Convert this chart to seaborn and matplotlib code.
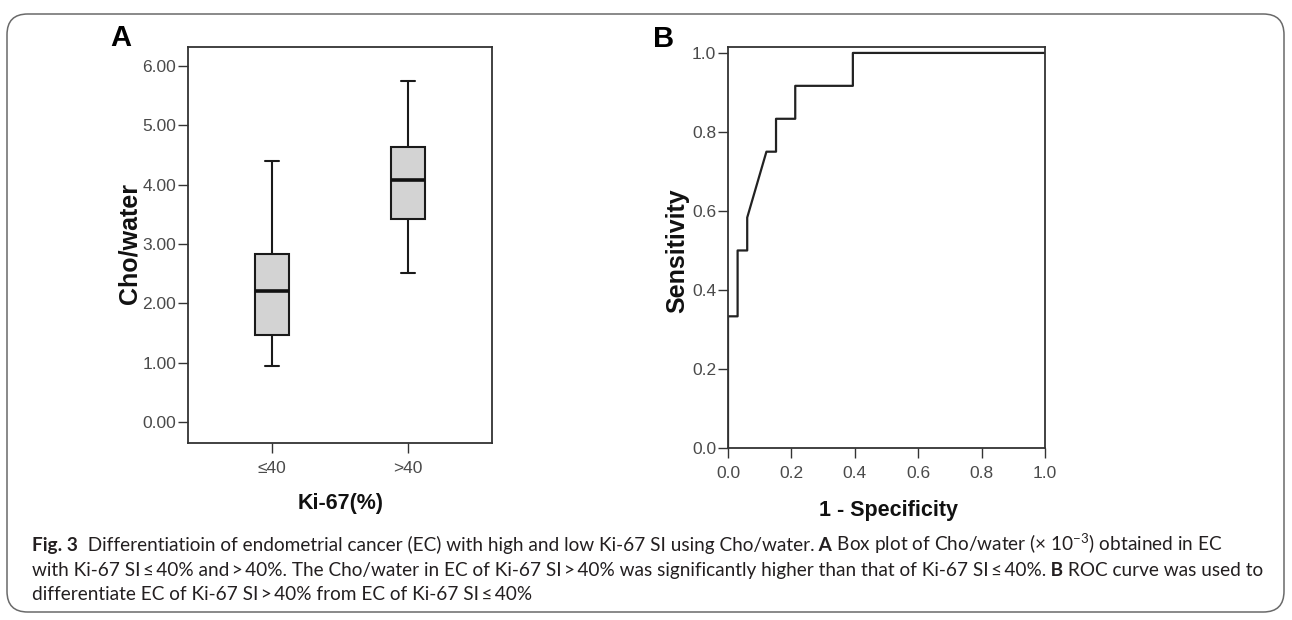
import numpy as np
import pandas as pd
import matplotlib as mpl
mpl.use('Agg')
import matplotlib.pyplot as plt
from matplotlib.patches import FancyBboxPatch
import seaborn as sns

# Box plot summary values (Cho/water, x10^-3): min, Q1, median, Q3, max
ki67_groups = ['≤40', '>40']
low_ki67 = [0.95, 1.47, 2.21, 2.84, 4.40]
high_ki67 = [2.51, 3.42, 4.08, 4.64, 5.75]
cho_ticks = [0.0, 1.0, 2.0, 3.0, 4.0, 5.0, 6.0]

# ROC curve vertices (1 - specificity, sensitivity)
roc_fpr = [0.0, 0.0, 0.0303, 0.0303, 0.0606, 0.0606, 0.1212, 0.1515, 0.1515,
           0.2121, 0.2121, 0.3939, 0.3939, 1.0]
roc_tpr = [0.0, 0.3333, 0.3333, 0.5, 0.5, 0.5833, 0.75, 0.75, 0.8333,
           0.8333, 0.9167, 0.9167, 1.0, 1.0]
roc_ticks = [0.0, 0.2, 0.4, 0.6, 0.8, 1.0]

ts = '\u2009'  # thin space used around the comparison signs
caption_lines = [
    [('Fig. 3', 'bold'),
     ('  Differentiatioin of endometrial cancer (EC) with high and low Ki-67 SI using Cho/water.', 'normal'),
     (' A', 'bold'),
     (' Box plot of Cho/water (× $10^{-3}$) obtained in EC', 'normal')],
    [('with Ki-67 SI' + ts + '≤' + ts + '40% and' + ts + '>' + ts + '40%. The Cho/water in EC of Ki-67 SI'
      + ts + '>' + ts + '40% was significantly higher than that of Ki-67 SI' + ts + '≤' + ts + '40%.', 'normal'),
     (' B', 'bold'),
     (' ROC curve was used to', 'normal')],
    [('differentiate EC of Ki-67 SI' + ts + '>' + ts + '40% from EC of Ki-67 SI' + ts + '≤' + ts + '40%', 'normal')],
]

sns.set_style('ticks')
plt.rcParams['font.family'] = ['Liberation Sans', 'DejaVu Sans']
plt.rcParams['mathtext.fontset'] = 'custom'
plt.rcParams['mathtext.rm'] = 'Lato'
plt.rcParams['mathtext.default'] = 'regular'

frame_col = '#333333'
tick_col = '#4a4a4a'

W, H = 1292, 620
fig = plt.figure(figsize=(W / 100, H / 100), dpi=100)

def px_axes(l, t, r, b):
    return fig.add_axes([l / W, (H - b) / H, (r - l) / W, (b - t) / H])

def style_axes(ax):
    for s in ax.spines.values():
        s.set_visible(True)
        s.set_color(frame_col)
        s.set_linewidth(1.3)
    ax.tick_params(direction='out', length=7, width=1.0, color=frame_col,
                   labelcolor=tick_col, labelsize=12.5, pad=1.5)
    ax.tick_params(axis='x', pad=6)

# ---------------- Panel A: box plot ----------------
box_df = pd.DataFrame({
    'group': [ki67_groups[0]] * len(low_ki67) + [ki67_groups[1]] * len(high_ki67),
    'value': low_ki67 + high_ki67,
})

axA = px_axes(188, 47, 492, 443)
sns.boxplot(ax=axA, data=box_df, x='group', y='value', order=ki67_groups,
            width=0.25, color='#d3d3d3', linecolor='#1a1a1a', linewidth=1.5,
            fill=True, saturation=1, capwidths=0.1,
            medianprops={'linewidth': 2.6, 'color': '#111111'},
            whiskerprops={'linewidth': 1.5},
            capprops={'linewidth': 1.5})
axA.set_xlim(-0.62, 1.62)
axA.set_ylim(-0.35, 6.32)
axA.set_yticks(cho_ticks)
axA.set_yticklabels(['{:.2f}'.format(v) for v in cho_ticks])
style_axes(axA)
axA.set_xlabel('Ki-67(%)', fontsize=15.5, fontweight='bold', color='#111111')
axA.set_ylabel('Cho/water', fontsize=18, fontweight='bold', color='#111111')
axA.xaxis.set_label_coords(0.503, -0.154)
axA.xaxis.label.set(va='center', ha='center')
axA.yaxis.set_label_coords(-0.191, 0.503)
axA.yaxis.label.set(va='center', ha='center')
axA.text(-0.22, 1.023, 'A', transform=axA.transAxes, fontsize=21,
         fontweight='bold', ha='center', va='center', color='#000000')

# ---------------- Panel B: ROC curve ----------------
roc_df = pd.DataFrame({'fpr': roc_fpr, 'tpr': roc_tpr})

axB = px_axes(728, 47, 1045, 448)
sns.lineplot(ax=axB, data=roc_df, x='fpr', y='tpr', sort=False,
             estimator=None, color='#222222', linewidth=1.6)
axB.set_xlim(0, 1)
axB.set_ylim(0, 1.015)
axB.set_xticks(roc_ticks)
axB.set_yticks(roc_ticks)
axB.set_xticklabels(['{:.1f}'.format(v) for v in roc_ticks])
axB.set_yticklabels(['{:.1f}'.format(v) for v in roc_ticks])
style_axes(axB)
axB.set_xlabel('1 - Specificity', fontsize=15.5, fontweight='bold', color='#111111')
axB.set_ylabel('Sensitivity', fontsize=18, fontweight='bold', color='#111111')
axB.xaxis.set_label_coords(0.505, -0.155)
axB.xaxis.label.set(va='center', ha='center')
axB.yaxis.set_label_coords(-0.161, 0.491)
axB.yaxis.label.set(va='center', ha='center')
axB.text(-0.202, 1.02, 'B', transform=axB.transAxes, fontsize=21,
         fontweight='bold', ha='center', va='center', color='#000000')

# ---------------- Caption and frame ----------------
frame = FancyBboxPatch((7 / W, 8 / H), (W - 8 - 7) / W, (H - 14 - 8) / H,
                       boxstyle='round,pad=0,rounding_size=0.016',
                       transform=fig.transFigure, facecolor='none',
                       edgecolor='#6a6a6a', linewidth=1.1,
                       mutation_aspect=W / H)
fig.patches.append(frame)

renderer = fig.canvas.get_renderer()
cap_font = ['Lato', 'DejaVu Sans']
baselines = [551, 576, 600]
for line, base in zip(caption_lines, baselines):
    x = 32 / W
    for txt, weight in line:
        t = fig.text(x, (H - base) / H, txt, fontsize=13.7, fontweight=weight,
                     family=cap_font, color='#231f20', va='baseline', ha='left')
        x += t.get_window_extent(renderer).width / W

fig.savefig('out.png', dpi=100)
